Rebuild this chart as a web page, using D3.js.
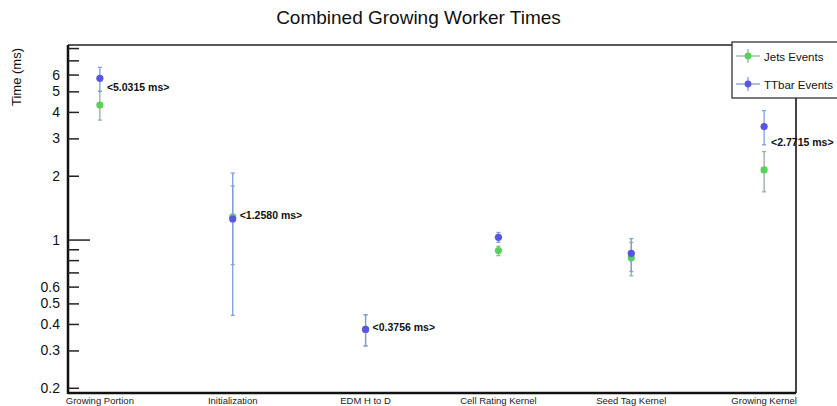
<!DOCTYPE html>
<html lang="en">
<head>
<meta charset="utf-8">
<title>Combined Growing Worker Times</title>
<script src="https://cdn.jsdelivr.net/npm/d3@7"></script>
<style>
  body { margin: 0; background: #fff; }
  text { font-family: "Liberation Sans", Arial, sans-serif; }
</style>
</head>
<body>
<script>
// chart data
let categories = ["Growing Portion", "Initialization", "EDM H to D", "Cell Rating Kernel", "Seed Tag Kernel", "Growing Kernel"];
let jetsValues = [4.31, 1.28, 0.377, 0.888, 0.82, 2.13];
let jetsLow    = [3.66, 0.762, 0.315, 0.84, 0.675, 1.68];
let jetsHigh   = [5.0, 1.79, 0.442, 0.93, 0.97, 2.60];
let ttbarValues = [5.76, 1.25, 0.377, 1.025, 0.86, 3.41];
let ttbarLow    = [5.0, 0.439, 0.315, 0.97, 0.707, 2.80];
let ttbarHigh   = [6.49, 2.06, 0.442, 1.08, 1.01, 4.06];
let annotations = ["<5.0315 ms>", "<1.2580 ms>", "<0.3756 ms>", null, null, "<2.7715 ms>"];
let annotationAt = [5.25, 1.30, 0.385, null, null, 2.87];
let yTicks = [0.2, 0.3, 0.4, 0.5, 0.6, 0.7, 0.8, 0.9, 1, 2, 3, 4, 5, 6, 7, 8];
let yLabelled = [0.2, 0.3, 0.4, 0.5, 0.6, 1, 2, 3, 4, 5, 6];

let w = 837, h = 406;
let padLeft = 68, padRight = 796, padTop = 45, padBottom = 393;

let svg = d3.select("body").append("svg")
  .attr("width", w)
  .attr("height", h);

let xScale = d3.scaleLinear()
  .domain([-0.24, categories.length - 1 + 0.24])
  .range([padLeft, padRight]);

let yScale = d3.scaleLog()
  .domain([0.189, 8.27])
  .range([padBottom, padTop]);

// title
svg.append("text")
  .attr("x", w / 2)
  .attr("y", 24)
  .attr("text-anchor", "middle")
  .attr("font-size", 19)
  .attr("fill", "#111")
  .text("Combined Growing Worker Times");

// y axis title
svg.append("text")
  .attr("transform", "translate(21," + (padTop + 3) + ") rotate(-90)")
  .attr("text-anchor", "end")
  .attr("font-size", 13)
  .attr("fill", "#111")
  .text("Time (ms)");

// frame
svg.append("line").attr("x1", padLeft).attr("x2", padRight).attr("y1", padTop).attr("y2", padTop)
  .attr("stroke", "#222").attr("stroke-width", 1.5);
svg.append("line").attr("x1", padRight).attr("x2", padRight).attr("y1", padTop).attr("y2", padBottom)
  .attr("stroke", "#444").attr("stroke-width", 2);
svg.append("line").attr("x1", padLeft).attr("x2", padRight).attr("y1", padBottom).attr("y2", padBottom)
  .attr("stroke", "#111").attr("stroke-width", 2.5);
svg.append("line").attr("x1", padLeft).attr("x2", padLeft).attr("y1", padTop).attr("y2", padBottom + 1)
  .attr("stroke", "#111").attr("stroke-width", 2.5);

// y ticks, ROOT style
let yAxis = d3.axisRight(yScale)
  .tickValues(yTicks)
  .tickSize(11)
  .tickFormat(() => "");
let yg = svg.append("g")
  .attr("transform", "translate(" + padLeft + ",0)")
  .call(yAxis);
yg.select(".domain").remove();
yg.selectAll(".tick line")
  .attr("stroke", "#222")
  .attr("stroke-width", 1.5)
  .attr("x2", (d) => d === 1 ? 22 : 11);

svg.selectAll(".ylab")
  .data(yLabelled)
  .enter()
  .append("text")
  .attr("class", "ylab")
  .attr("x", padLeft - 8)
  .attr("y", (d) => yScale(d) + 5)
  .attr("text-anchor", "end")
  .attr("font-size", 14)
  .attr("fill", "#111")
  .text((d) => d);

// x labels
svg.selectAll(".xlab")
  .data(categories)
  .enter()
  .append("text")
  .attr("class", "xlab")
  .attr("x", (d, i) => xScale(i))
  .attr("y", padBottom + 11)
  .attr("text-anchor", "middle")
  .attr("font-size", 9.5)
  .attr("fill", "#222")
  .text((d) => d);

function drawSeries(values, low, high, lineColor, dotColor, cls) {
  let g = svg.append("g").attr("class", cls);
  values.forEach(function(v, i) {
    let x = xScale(i);
    g.append("line")
      .attr("x1", x).attr("x2", x)
      .attr("y1", yScale(low[i])).attr("y2", yScale(high[i]))
      .attr("stroke", lineColor).attr("stroke-width", 1.3);
    [low[i], high[i]].forEach(function(e) {
      g.append("line")
        .attr("x1", x - 2).attr("x2", x + 2)
        .attr("y1", yScale(e)).attr("y2", yScale(e))
        .attr("stroke", lineColor).attr("stroke-width", 1.3);
    });
  });
  g.selectAll("circle")
    .data(values)
    .enter()
    .append("circle")
    .attr("cx", (d, i) => xScale(i))
    .attr("cy", (d) => yScale(d))
    .attr("r", 3.6)
    .attr("fill", dotColor);
}

drawSeries(jetsValues, jetsLow, jetsHigh, "#93b09a", "#58d158", "jets");
drawSeries(ttbarValues, ttbarLow, ttbarHigh, "#7f9de0", "#5a55e0", "ttbar");

// annotations
annotations.forEach(function(d, i) {
  if (d === null) return;
  svg.append("text")
    .attr("class", "ann")
    .attr("x", xScale(i) + 7)
    .attr("y", yScale(annotationAt[i]) + 4)
    .attr("font-size", 10.5)
    .attr("font-weight", "bold")
    .attr("fill", "#111")
    .text(d);
});

// legend
let legend = svg.append("g").attr("transform", "translate(732,42)");
legend.append("rect")
  .attr("x", 0).attr("y", 0)
  .attr("width", 110).attr("height", 56)
  .attr("fill", "#fff")
  .attr("stroke", "#222")
  .attr("stroke-width", 1.2);
let legendItems = [
  { name: "Jets Events", line: "#93b09a", dot: "#58d158" },
  { name: "TTbar Events", line: "#7f9de0", dot: "#5a55e0" }
];
legendItems.forEach(function(d, i) {
  let cy = 14 + i * 28;
  legend.append("line").attr("x1", 4).attr("x2", 28).attr("y1", cy).attr("y2", cy)
    .attr("stroke", d.line).attr("stroke-width", 1.3);
  legend.append("line").attr("x1", 16).attr("x2", 16).attr("y1", cy - 7).attr("y2", cy + 7)
    .attr("stroke", d.line).attr("stroke-width", 1.3);
  legend.append("circle").attr("cx", 16).attr("cy", cy).attr("r", 3.4).attr("fill", d.dot);
  legend.append("text")
    .attr("x", 32).attr("y", cy + 4.5)
    .attr("font-size", 11.5)
    .attr("fill", "#111")
    .text(d.name);
});
</script>
</body>
</html>
